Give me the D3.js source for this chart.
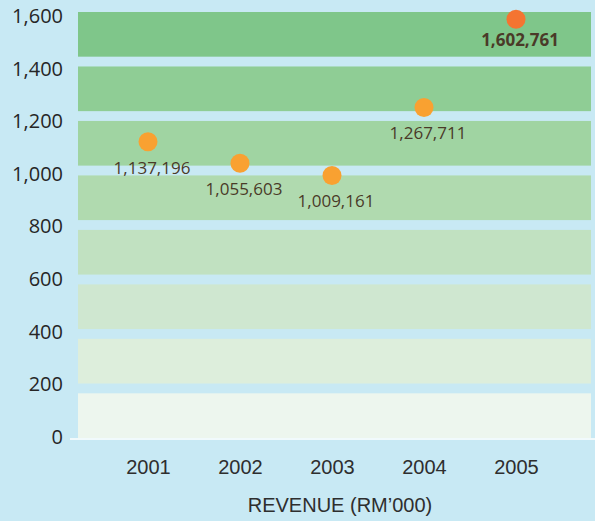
<!DOCTYPE html>
<html lang="en">
<head>
    <meta charset="UTF-8">
    <title>revenue</title>
    <script src="https://d3js.org/d3.v7.min.js"></script>
    <style>
        body {
            margin: 0;
            background: #c8e9f4;
            overflow: hidden;
        }

        text {
            font-family: 'Open Sans', 'Noto Sans', sans-serif;
        }

        .xlab text,
        .title {
            font-family: 'Liberation Sans', Arial, sans-serif;
        }
    </style>
</head>
<body>
    <div id="chart"></div>

<script>
    // data (RM'000, shown in thousands on the axis)
    let years = ["2001", "2002", "2003", "2004", "2005"];
    let revenue = [1137196, 1055603, 1009161, 1267711, 1602761];
    let yTicks = [0, 200, 400, 600, 800, 1000, 1200, 1400, 1600];
    let bandColors = ["#edf6ee", "#ddeedc", "#cfe7d0", "#c1e1c1", "#b0daaf", "#a0d4a2", "#8fcd95", "#7fc68a"];

    let width = 595, height = 521;

    let svg = d3.select("#chart").append("svg")
        .attr("width", width)
        .attr("height", height);

    let y = d3.scaleLinear()
        .domain([0, 1600])
        .range([437, 16]);

    let x = d3.scalePoint()
        .domain(years)
        .range([148, 516]);

    // background stripes, one per 200 step
    let band = d3.scaleBand()
        .domain(d3.range(bandColors.length))
        .range([438, 12])
        .paddingInner(0.18)
        .paddingOuter(0);

    svg.append("g").selectAll("rect")
        .data(bandColors)
        .enter().append("rect")
        .attr("x", 78)
        .attr("width", 591 - 78)
        .attr("y", (d, i) => band(i))
        .attr("height", band.bandwidth())
        .attr("fill", d => d);

    // white baseline
    svg.append("line")
        .attr("x1", 70).attr("x2", width)
        .attr("y1", 439).attr("y2", 439)
        .attr("stroke", "#fff")
        .attr("stroke-width", 1.5);

    // y axis labels
    let yAxis = svg.append("g")
        .attr("transform", "translate(63,0)")
        .call(d3.axisLeft(y).tickValues(yTicks).tickSize(0).tickPadding(0).tickFormat(d3.format(",")));
    yAxis.select(".domain").remove();
    yAxis.selectAll("text")
        .attr("font-size", 20)
        .attr("fill", "#262626");

    // x axis labels
    let xAxis = svg.append("g")
        .attr("class", "xlab")
        .attr("transform", "translate(0,474)")
        .call(d3.axisBottom(x).tickSize(0).tickPadding(0));
    xAxis.select(".domain").remove();
    xAxis.selectAll("text")
        .attr("dy", 0)
        .attr("font-size", 20)
        .attr("fill", "#2e2e2e");

    svg.append("text")
        .attr("class", "title")
        .attr("x", 340)
        .attr("y", 512)
        .attr("text-anchor", "middle")
        .attr("font-size", 20)
        .attr("fill", "#2e2e2e")
        .text("REVENUE (RM\u2019000)");

    let pts = svg.append("g").selectAll("g")
        .data(years.map((d, i) => ({ year: d, value: revenue[i], last: i === years.length - 1 })))
        .enter().append("g")
        .attr("transform", d => "translate(" + x(d.year) + "," + y(d.value / 1000) + ")");

    pts.append("circle")
        .attr("r", 9.5)
        .attr("cy", 4)
        .attr("fill", d => d.last ? "#f47431" : "#f9a131");

    pts.append("text")
        .attr("x", 4)
        .attr("y", d => d.last ? 31 : 36)
        .attr("text-anchor", "middle")
        .attr("font-size", 17)
        .attr("font-weight", d => d.last ? "bold" : "normal")
        .attr("fill", "#4a3a28")
        .text(d => d3.format(",")(d.value));
</script>
</body>
</html>
